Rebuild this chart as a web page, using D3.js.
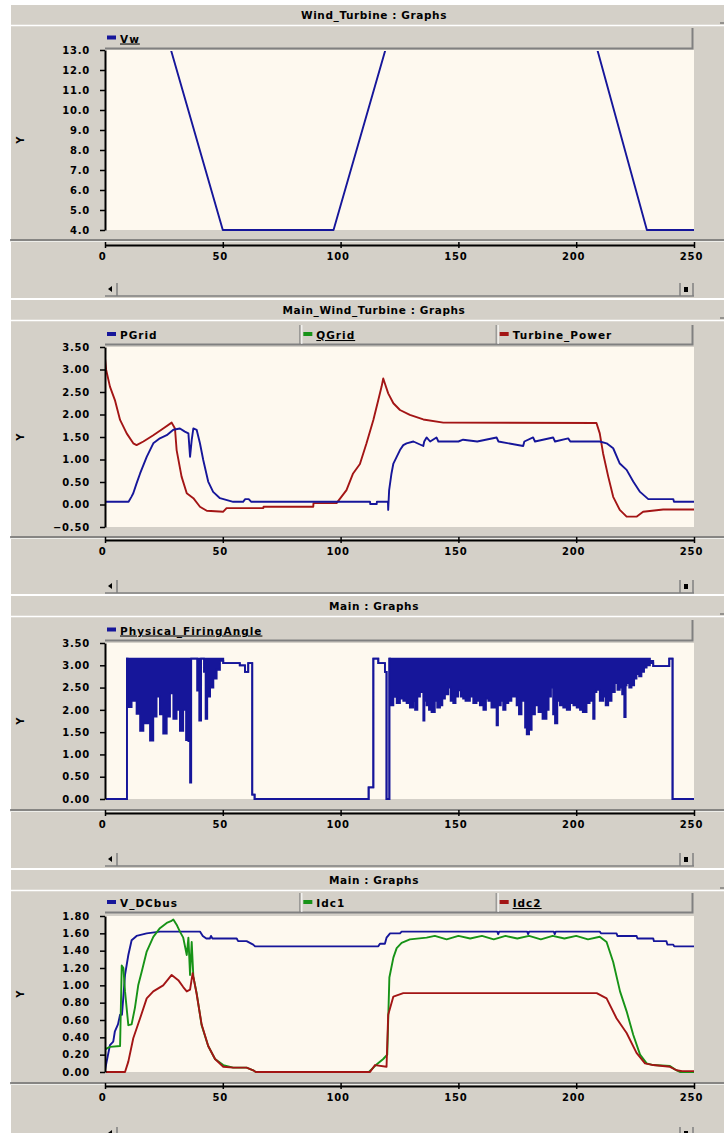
<!DOCTYPE html>
<html>
<head>
<meta charset="utf-8">
<script src="https://cdn.jsdelivr.net/npm/d3@7"></script>
<style>
  body { margin: 0; background: #fff; }
  svg { display: block; }
  text { font-family: 'DejaVu Sans', sans-serif; font-weight: bold; fill: #000; }
</style>
</head>
<body>
<div id="chart"></div>
<script>
// ---- data (time in s) ----
const xTicks = [0, 50, 100, 150, 200, 250];

// Wind_Turbine : Vw
const vw = [[0,13],[28,13],[50,4],[97,4],[119,13],[209,13],[230,4],[250,4]];

// Main_Wind_Turbine : PGrid / QGrid / Turbine_Power
const pGrid = [[0,0.06],[10,0.06],[11.2,0.17],[12,0.25],[13.4,0.47],[14.9,0.69],[17.7,1.06],[20.5,1.36],[23.3,1.47],
  [26.2,1.54],[29,1.66],[31.8,1.69],[33.9,1.62],[35.4,1.58],[36.1,1.06],[36.8,1.43],[37.5,1.69],[38.9,1.66],[40.3,1.36],
  [41.7,0.99],[43.8,0.51],[45.9,0.28],[48.8,0.14],[54.4,0.06],[58.6,0.06],[59.5,0.12],[61,0.12],[62.1,0.06],[112.5,0.06],
  [112.6,0.01],[115.3,0.01],[115.4,0.06],[120.1,0.06],[120.2,-0.12],[120.6,0.32],[121.6,0.69],[122.4,0.91],[123.8,1.06],
  [125.2,1.21],[126.6,1.32],[128,1.36],[130.9,1.40],[135.1,1.30],[135.5,1.40],[136.5,1.49],[138,1.40],[140.7,1.49],
  [141.5,1.40],[150,1.40],[152,1.44],[158,1.40],[166.2,1.49],[167,1.40],[177.5,1.30],[178,1.40],[181.7,1.49],[182.5,1.40],
  [190.2,1.49],[191,1.40],[196.6,1.47],[197.5,1.40],[210,1.40],[212.9,1.36],[215.7,1.25],[218.5,0.91],[221.4,0.77],
  [224.2,0.51],[227.1,0.28],[230.6,0.12],[241.2,0.12],[241.5,0.06],[250,0.06]];
const qGrid = [];
const turbinePower = [[0,3.25],[0.5,2.99],[2.1,2.62],[4.2,2.32],[6.4,1.88],[9.2,1.58],[12,1.36],[13.4,1.32],[16.3,1.40],
  [20.5,1.54],[24.7,1.69],[28.3,1.82],[29.7,1.69],[30.4,1.21],[32.5,0.62],[34.7,0.25],[37.5,0.14],[40.3,-0.05],[43.2,-0.14],
  [50.2,-0.16],[51.6,-0.08],[67.2,-0.08],[67.3,-0.05],[88.4,-0.05],[88.5,0.03],[98.3,0.03],[102.5,0.32],[105.3,0.69],
  [108.2,0.9],[111,1.36],[113.9,1.88],[116,2.32],[117.4,2.62],[118.1,2.80],[118.8,2.69],[120.2,2.47],[122.4,2.25],
  [125.2,2.10],[129.4,1.99],[135.1,1.89],[143.6,1.82],[208.6,1.81],[210,1.58],[211.4,1.14],[213.6,0.62],[215.7,0.17],
  [218.5,-0.12],[221.4,-0.27],[225.6,-0.27],[228.4,-0.16],[236.9,-0.11],[250,-0.11]];

// Main : Physical_FiringAngle  [t, lower envelope, upper envelope]
const firingAngle = [[0,0,0],[9.2,0,0],[9.3,3.15,3.15],[9.6,2.06,3.15],[11.3,2.2,3.15],[13.4,1.91,3.15],[14.9,1.53,3.15],
  [16.3,1.7,3.15],[17.7,1.7,3.15],[19.1,1.31,3.15],[20.5,1.85,3.15],[21.9,2.3,3.15],[23.3,1.9,3.15],[24.7,1.47,3.15],
  [26.2,1.85,3.15],[27.6,2.37,3.15],[29,1.8,3.15],[30.4,2.0,3.15],[31.8,1.53,3.15],[33.2,2.0,3.15],[34.4,1.32,3.15],
  [35.4,1.3,3.15],[36.1,0.37,3.15],[36.6,3.15,3.15],[38.8,3.15,3.15],[39.1,2.43,3.15],[40,1.76,3.15],[40.8,3.15,3.15],
  [42,2.85,3.15],[42.7,1.8,3.15],[43.4,2.3,3.15],[44.6,2.5,3.15],[46,2.7,3.15],[47.4,2.9,3.15],[48.8,3.1,3.15],
  [50.2,3.05,3.05],[54.4,3.05,3.05],[57.2,3.0,3.0],[59.4,2.85,2.85],[60.6,2.85,2.85],[60.8,3.05,3.05],[62.2,3.05,3.05],
  [62.5,0.1,0.1],[63.5,0,0],[111.8,0,0],[111.9,0.26,0.26],[113.8,0.26,0.26],[113.9,3.15,3.15],[116,3.05,3.05],
  [118.8,2.85,2.85],[119.4,2.85,2.85],[119.5,0,0],[120.6,0,0],[120.7,3.15,3.15],[121,2.1,3.15],[122.4,2.29,3.15],
  [123.8,2.15,3.15],[125.2,2.25,3.15],[126.6,2.2,3.15],[128,2.15,3.15],[129.4,2.05,3.15],[130.8,2.2,3.15],[131.6,2.0,3.15],
  [132.6,2.3,3.15],[133.7,2.4,3.15],[135.1,1.76,3.15],[135.6,2.2,3.15],[136.5,2.1,3.15],[137.5,2.0,3.15],[138.6,1.95,3.15],
  [140,2.2,3.15],[141,2.05,3.15],[142.2,2.1,3.15],[143.2,2.25,3.15],[144.3,2.35,3.15],[145.7,2.5,3.15],[146.7,2.2,3.15],
  [147.8,2.15,3.15],[148.8,2.3,3.15],[149.9,2.44,3.15],[151,2.3,3.15],[152,2.25,3.15],[153,2.2,3.15],[154.9,2.3,3.15],
  [156.3,2.15,3.15],[157.7,2.2,3.15],[159.1,2.1,3.15],[160.6,2.0,3.15],[161.7,2.25,3.15],[162.7,2.2,3.15],[164,2.05,3.15],
  [166.2,1.65,3.15],[166.8,2.1,3.15],[168,2.2,3.15],[169,2.0,3.15],[170,2.15,3.15],[171.2,2.2,3.15],[172.5,2.3,3.15],
  [174.7,2.1,3.15],[175.7,1.9,3.15],[176.8,2.2,3.15],[178.3,1.6,3.15],[179,1.45,3.15],[180,1.55,3.15],[181.1,1.9,3.15],
  [182.5,2.1,3.15],[184,1.95,3.15],[185.7,1.8,3.15],[187.4,2.0,3.15],[188.3,2.3,3.15],[189.3,2.5,3.15],[190.2,1.9,3.15],
  [191,1.7,3.15],[192,2.2,3.15],[193.1,2.1,3.15],[194.5,2.05,3.15],[196,2.0,3.15],[197.4,2.15,3.15],[198.8,2.1,3.15],
  [200.2,2.05,3.15],[201.6,2.0,3.15],[202.8,1.95,3.15],[204.4,2.15,3.15],[205.7,2.2,3.15],[207.2,1.8,3.15],[207.8,2.4,3.15],
  [208.6,2.45,3.15],[210,2.2,3.15],[211.5,2.3,3.15],[212.5,2.1,3.15],[213.6,2.2,3.15],[215,2.4,3.15],[216.4,2.6,3.15],
  [217.5,2.45,3.15],[218.5,2.5,3.15],[219.5,2.35,3.15],[220.4,1.84,3.15],[221,2.55,3.15],[221.4,2.6,3.15],[222.5,2.5,3.15],
  [223.5,2.55,3.15],[224.6,2.7,3.15],[225.6,2.8,3.15],[226.7,2.75,3.15],[227.7,2.85,3.15],[228.8,2.95,3.15],[229.9,3.0,3.15],
  [231.3,3.05,3.1],[232.7,2.98,2.98],[239.1,2.98,2.98],[239.5,3.15,3.15],[240.6,3.15,3.15],[240.9,0,0],[250,0,0]];

// Main : V_DCbus / Idc1 / Idc2
const vDCbus = [[0,0.02],[0.7,0.12],[2.1,0.31],[3.5,0.35],[4.2,0.47],[5.5,0.55],[6.4,0.66],[7.2,0.66],[8.5,1.12],
  [9.9,1.35],[11.3,1.52],[13.4,1.57],[17.7,1.60],[23.3,1.62],[40.3,1.62],[41.5,1.57],[43,1.54],[44.5,1.54],[45,1.57],
  [45.6,1.54],[55.9,1.54],[56.5,1.51],[60.1,1.51],[62.9,1.47],[63.7,1.45],[116,1.45],[116.7,1.48],[118.8,1.48],
  [119.5,1.55],[121,1.60],[125.2,1.60],[125.9,1.62],[166.5,1.62],[166.9,1.59],[167.3,1.62],[179.2,1.62],[179.6,1.59],
  [180,1.62],[190.5,1.62],[190.9,1.59],[191.3,1.62],[210,1.62],[210.5,1.60],[217.1,1.60],[217.5,1.57],[225.6,1.57],
  [226,1.54],[232.7,1.54],[233,1.51],[238.3,1.51],[238.7,1.47],[241.2,1.47],[241.6,1.45],[250,1.45]];
const idc1 = [[0,0.26],[2.1,0.29],[6.4,0.30],[7.1,1.23],[7.8,1.2],[8.5,0.93],[9.9,0.54],[11.3,0.55],[12.7,0.74],
  [14.1,1.0],[15.6,1.16],[17.7,1.39],[20.5,1.56],[23.3,1.66],[26.2,1.72],[28,1.74],[29,1.76],[30.4,1.70],[31.8,1.62],
  [33.2,1.55],[34.7,1.35],[35.4,1.55],[36.1,1.12],[36.8,1.5],[37.5,1.1],[38.9,0.91],[41,0.54],[43.8,0.30],[46.7,0.15],
  [50.2,0.08],[54.4,0.05],[60.1,0.05],[62.9,0.02],[64,0],[112,0],[115,0.08],[118.1,0.15],[119.8,0.2],[120.7,1.09],
  [122.4,1.32],[123.8,1.43],[125.9,1.49],[129.4,1.53],[136.5,1.55],[140,1.57],[145,1.53],[150,1.57],[155,1.54],
  [160,1.57],[165,1.53],[170,1.57],[175,1.54],[180,1.57],[185,1.53],[190,1.57],[195,1.54],[200,1.57],[205,1.53],
  [210,1.56],[212.9,1.50],[215.7,1.27],[218.6,0.93],[221.4,0.70],[224.2,0.43],[227.1,0.20],[229.9,0.10],[232.7,0.08],
  [239.8,0.07],[241.9,0.03],[244,0],[250,0]];
const idc2 = [[0,0],[8.5,0],[9.9,0.12],[12,0.39],[14.9,0.62],[17.7,0.85],[20.5,0.93],[24.7,1.0],[28.3,1.12],[31.1,1.06],
  [33.2,0.98],[34.7,0.93],[36.1,0.95],[37.2,1.14],[38.9,0.9],[41,0.55],[43.8,0.30],[46.7,0.15],[50.2,0.06],[54.4,0.05],
  [60.1,0.05],[62.9,0.02],[64,0],[112.5,0],[114.6,0.08],[119.5,0.06],[120.2,0.66],[122.4,0.87],[126.6,0.91],[208.7,0.91],
  [212.9,0.85],[217.1,0.62],[221.4,0.45],[225.6,0.22],[229.2,0.10],[232.7,0.08],[239.8,0.06],[242.6,0.02],[245,0.01],[250,0.01]];

const BLUE = '#16169a', RED = '#a31515', GREEN = '#179317';
const BG = '#d4d0c8', PLOT = '#fef9ef', SHADOW = '#808080';

const panels = [
  { title: 'Wind_Turbine : Graphs', top: 5, legTop: 28, legBot: 49, plotTop: 50, plotBot: 230, sepY: 240, axisY: 245,
    scrollY: 283, bottom: 298, domain: [4, 13], ticks: d3.range(4, 13.5, 1), fmt: d3.format('.1f'),
    legend: [{ name: 'Vw', color: BLUE, under: true }],
    lines: [{ data: vw, color: BLUE }] },
  { title: 'Main_Wind_Turbine : Graphs', top: 300, legTop: 325, legBot: 345, plotTop: 347, plotBot: 527, sepY: 537, axisY: 540,
    scrollY: 580, bottom: 594, domain: [-0.5, 3.5], ticks: d3.range(-0.5, 3.6, 0.5), fmt: d3.format('.2f'),
    legend: [{ name: 'PGrid', color: BLUE }, { name: 'QGrid', color: GREEN, under: true }, { name: 'Turbine_Power', color: RED }],
    lines: [{ data: qGrid, color: GREEN }, { data: turbinePower, color: RED }, { data: pGrid, color: BLUE }] },
  { title: 'Main : Graphs', top: 596, legTop: 620, legBot: 641, plotTop: 643, plotBot: 799, sepY: 810, axisY: 813,
    scrollY: 853, bottom: 868, domain: [0, 3.5], ticks: d3.range(0, 3.6, 0.5), fmt: d3.format('.2f'),
    legend: [{ name: 'Physical_FiringAngle', color: BLUE, under: true }],
    band: { data: firingAngle, color: BLUE }, lines: [] },
  { title: 'Main : Graphs', top: 870, legTop: 893, legBot: 913, plotTop: 916, plotBot: 1072, sepY: 1083, axisY: 1086,
    scrollY: 1127, bottom: 1145, domain: [0, 1.8], ticks: d3.range(0, 1.81, 0.2), fmt: d3.format('.2f'),
    legend: [{ name: 'V_DCbus', color: BLUE }, { name: 'Idc1', color: GREEN }, { name: 'Idc2', color: RED, under: true }],
    lines: [{ data: vDCbus, color: BLUE }, { data: idc1, color: GREEN }, { data: idc2, color: RED }] }
];

const W = 724, H = 1133;
const X0 = 105, X1 = 694;

const svg = d3.select('#chart').append('svg').attr('width', W).attr('height', H);
const x = d3.scaleLinear().domain([0, 250]).range([X0, X1]);

panels.forEach((p, i) => {
  const g = svg.append('g');
  const y = d3.scaleLinear().domain(p.domain).range([p.plotBot, p.plotTop]);

  // window body
  g.append('rect').attr('x', 11).attr('y', p.top).attr('width', W - 11).attr('height', p.bottom - p.top).attr('fill', BG);
  // title bar
  g.append('line').attr('x1', 11).attr('x2', W).attr('y1', p.top - 0.5).attr('y2', p.top - 0.5).attr('stroke', '#fff');
  g.append('line').attr('x1', 11).attr('x2', W).attr('y1', p.top + 20.5).attr('y2', p.top + 20.5).attr('stroke', '#fff').attr('stroke-width', 1.5);
  g.append('text').attr('x', 374).attr('y', p.top + 14).attr('text-anchor', 'middle')
    .attr('font-size', 10.5).attr('letter-spacing', 0.6).text(p.title);
  g.append('line').attr('x1', W - 4).attr('x2', W).attr('y1', p.top + 18).attr('y2', p.top + 18).attr('stroke', '#555');

  // plot area
  g.append('rect').attr('x', X0).attr('y', p.plotTop).attr('width', X1 - X0).attr('height', p.plotBot - p.plotTop).attr('fill', PLOT);

  const clipId = 'clip' + i;
  svg.append('clipPath').attr('id', clipId).append('rect')
    .attr('x', X0 + 1).attr('y', p.plotTop + 1).attr('width', X1 - X0 - 1).attr('height', p.plotBot - p.plotTop);
  const plot = g.append('g').attr('clip-path', `url(#${clipId})`);

  if (p.band) {
    const area = d3.area().curve(d3.curveStepAfter)
      .x(d => x(d[0])).y0(d => y(d[1])).y1(d => y(d[2]));
    plot.append('path').datum(p.band.data).attr('d', area).attr('fill', p.band.color);
    const lo = d3.line().curve(d3.curveStepAfter).x(d => x(d[0])).y(d => y(d[1]));
    const hi = d3.line().curve(d3.curveStepAfter).x(d => x(d[0])).y(d => y(d[2]));
    plot.append('path').datum(p.band.data).attr('d', lo).attr('fill', 'none').attr('stroke', p.band.color).attr('stroke-width', 1.8);
    plot.append('path').datum(p.band.data).attr('d', hi).attr('fill', 'none').attr('stroke', p.band.color).attr('stroke-width', 1.8);
  }

  const line = d3.line().x(d => x(d[0])).y(d => y(d[1]));
  p.lines.filter(s => s.data.length).forEach(s => {
    plot.append('path').datum(s.data).attr('d', line)
      .attr('fill', 'none').attr('stroke', s.color).attr('stroke-width', 1.9).attr('stroke-linejoin', 'round');
  });

  // legend bar
  g.append('rect').attr('x', X0).attr('y', p.legTop).attr('width', X1 - 1 - X0).attr('height', p.legBot - p.legTop).attr('fill', BG);
  g.append('path').attr('d', `M${X0},${p.legBot - 0.5}H${X1 - 1.5}V${p.legTop}`)
    .attr('fill', 'none').attr('stroke', SHADOW).attr('stroke-width', 2);
  const cellW = (X1 - X0) / 3;
  p.legend.forEach((l, j) => {
    const cx = X0 + j * cellW;
    if (j > 0) {
      g.append('line').attr('x1', cx - 1.5).attr('x2', cx - 1.5).attr('y1', p.legTop).attr('y2', p.legBot - 1).attr('stroke', SHADOW);
      g.append('line').attr('x1', cx + 0.5).attr('x2', cx + 0.5).attr('y1', p.legTop).attr('y2', p.legBot - 1).attr('stroke', '#fff');
    }
    const my = (p.legTop + p.legBot) / 2;
    g.append('rect').attr('x', cx + 2).attr('y', my - 3).attr('width', 9).attr('height', 4).attr('fill', l.color);
    g.append('text').attr('x', cx + 15).attr('y', my + 4).attr('font-size', 10.5).attr('letter-spacing', 1)
      .attr('text-decoration', l.under ? 'underline' : null).text(l.name);
  });

  // y axis
  g.append('g').attr('transform', `translate(${X0},0)`)
    .call(d3.axisLeft(y).tickValues(p.ticks).tickFormat(p.fmt).tickSize(5).tickPadding(10).tickSizeOuter(0))
    .call(a => a.select('.domain').attr('stroke', '#000').attr('stroke-width', 2))
    .call(a => a.selectAll('.tick line').attr('stroke', '#000').attr('stroke-width', 1.5))
    .call(a => a.selectAll('.tick text').attr('font-size', 10).attr('letter-spacing', 0.8).attr('font-family', null));
  g.append('text').attr('transform', `translate(24,${(p.plotTop + p.plotBot) / 2}) rotate(-90)`)
    .attr('text-anchor', 'middle').attr('font-size', 10).text('Y');

  // separator + x axis
  g.append('line').attr('x1', 10).attr('x2', W).attr('y1', p.sepY).attr('y2', p.sepY).attr('stroke', '#6c6c6c').attr('stroke-width', 1.5);
  g.append('line').attr('x1', 10).attr('x2', W).attr('y1', p.sepY + 1.5).attr('y2', p.sepY + 1.5).attr('stroke', '#eeeeea');
  g.append('g').attr('transform', `translate(0,${p.axisY})`)
    .call(d3.axisBottom(x).tickValues(xTicks).tickFormat(d3.format('d')).tickSize(3).tickSizeOuter(0))
    .call(a => a.select('.domain').attr('stroke', '#000').attr('stroke-width', 2))
    .call(a => a.selectAll('.tick line').attr('y1', -3).attr('stroke', '#000').attr('stroke-width', 1.5))
    .call(a => a.selectAll('.tick text').attr('y', 8).attr('dx', -3).attr('font-size', 10).attr('letter-spacing', 0.8).attr('font-family', null));

  // horizontal scroll bar
  const sy = p.scrollY;
  g.append('line').attr('x1', X0).attr('x2', X1).attr('y1', sy + 13).attr('y2', sy + 13).attr('stroke', SHADOW).attr('stroke-width', 1.5);
  g.append('path').attr('d', `M${X0 + 3},${sy + 6}l4,-3v6z`).attr('fill', '#000');
  [X0 + 12, X1 - 14, X1 - 1].forEach(lx => {
    g.append('line').attr('x1', lx).attr('x2', lx).attr('y1', sy).attr('y2', sy + 13).attr('stroke', SHADOW).attr('stroke-width', 1.5);
  });
  g.append('rect').attr('x', X1 - 10).attr('y', sy + 4).attr('width', 4).attr('height', 5).attr('fill', '#000');
});
</script>
</body>
</html>
